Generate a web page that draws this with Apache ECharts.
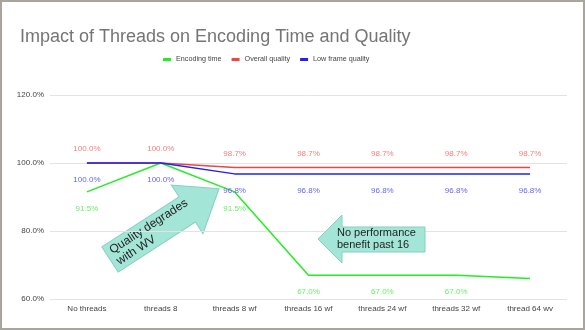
<!DOCTYPE html>
<html><head><meta charset="utf-8">
<script src="https://cdn.jsdelivr.net/npm/echarts@6/dist/echarts.min.js"></script>
<style>html,body{margin:0;padding:0;background:#fff}#c{width:585px;height:330px}</style>
</head><body><div id="c"></div>
<script>
const categories = ['No threads','threads 8','threads 8 wf','threads 16 wf','threads 24 wf','threads 32 wf','thread 64 wv'];
const encodingTime = [91.5, 100.0, 91.5, 67.0, 67.0, 67.0, 66.0];
const overallQuality = [100.0, 100.0, 98.7, 98.7, 98.7, 98.7, 98.7];
const lowFrameQuality = [100.0, 100.0, 96.8, 96.8, 96.8, 96.8, 96.8];
const encodingLabelHidden = [1, 6];
const yTicks = [60, 80, 100, 120];

const FONT = 'Liberation Sans, Arial, sans-serif';
const chart = echarts.init(document.getElementById('c'));
function fmt(p){ return Number(p.value).toFixed(1) + '%'; }
const encData = encodingTime.map((v,i)=> encodingLabelHidden.includes(i) ? {value:v, label:{show:false}} : v);
const deg = 33 * Math.PI / 180;
const hiddenSym = { symbol: 'circle', symbolSize: 0, showSymbol: true };
chart.setOption({
  animation: false,
  backgroundColor: '#fff',
  title: { text: 'Impact of Threads on Encoding Time and Quality', left: 15, top: 23,
    textStyle: { fontFamily: FONT, fontSize: 18, fontWeight: 'normal', color: '#757575' } },
  legend: { top: 51, left: 158, itemWidth: 8, itemHeight: 3, itemGap: 10,
    icon: 'rect',
    textStyle: { fontFamily: FONT, fontSize: 7.2, color: '#444' },
    data: ['Encoding time','Overall quality','Low frame quality'] },
  grid: { left: 50, right: 18, top: 95, bottom: 31 },
  xAxis: { type: 'category', data: categories, boundaryGap: true,
    axisLine: { show: false }, axisTick: { show: false },
    axisLabel: { fontFamily: FONT, fontSize: 8, color: '#444', margin: 6, interval: 0 } },
  yAxis: { type: 'value', min: yTicks[0], max: yTicks[yTicks.length-1], interval: 20,
    axisLine: { show: false }, axisTick: { show: false },
    axisLabel: { fontFamily: FONT, fontSize: 8, color: '#444', margin: 6,
      formatter: v => v.toFixed(1) + '%' },
    splitLine: { lineStyle: { color: '#e3e3e3', width: 1 } } },
  series: [
    Object.assign({ name: 'Encoding time', type: 'line', data: encData,
      itemStyle: { color: '#22ee22' }, lineStyle: { color: '#22ee22', width: 1.5 },
      label: { show: true, position: 'bottom', distance: 13, formatter: fmt,
        fontFamily: FONT, fontSize: 8, color: '#66f066' } }, hiddenSym),
    Object.assign({ name: 'Overall quality', type: 'line', data: overallQuality,
      itemStyle: { color: '#ee4444' }, lineStyle: { color: '#ee4444', width: 1.5 },
      label: { show: true, position: 'top', distance: 10, formatter: fmt,
        fontFamily: FONT, fontSize: 8, color: '#f08080' } }, hiddenSym),
    Object.assign({ name: 'Low frame quality', type: 'line', data: lowFrameQuality,
      itemStyle: { color: '#2222ee' }, lineStyle: { color: '#2222ee', width: 1.5 },
      label: { show: true, position: 'bottom', distance: 13, formatter: fmt,
        fontFamily: FONT, fontSize: 8, color: '#6666f0' } }, hiddenSym)
  ],
  graphic: [
    { type: 'rect', shape: { x: 1, y: 1, width: 583, height: 328 },
      style: { fill: 'none', stroke: '#aaa59c', lineWidth: 2 }, z: 100 },
    { type: 'group', x: 110, y: 259.5, rotation: deg, z: 100, children: [
      { type: 'polygon', shape: { points: [[0,-15],[92,-15],[92,-29],[130,0],[92,29],[92,15],[0,15]] },
        style: { fill: '#a3e6d8', stroke: '#86cfc0', lineWidth: 1 } },
      { type: 'text', x: 5, y: 0, style: { text: 'Quality degrades\nwith WV', fontFamily: FONT,
        fontSize: 12, lineHeight: 13, fill: '#222', align: 'left', verticalAlign: 'middle' } }
    ] },
    { type: 'polygon', z: 100, shape: { points: [[318,239],[342,215],[342,227],[425,227],[425,252],[342,252],[342,263]] },
      style: { fill: '#a3e6d8', stroke: '#86cfc0', lineWidth: 1 } },
    { type: 'text', z: 101, x: 337, y: 239, style: { text: 'No performance\nbenefit past 16', fontFamily: FONT,
      fontSize: 11, lineHeight: 12, fill: '#222', align: 'left', verticalAlign: 'middle' } }
  ]
});
</script></body></html>
